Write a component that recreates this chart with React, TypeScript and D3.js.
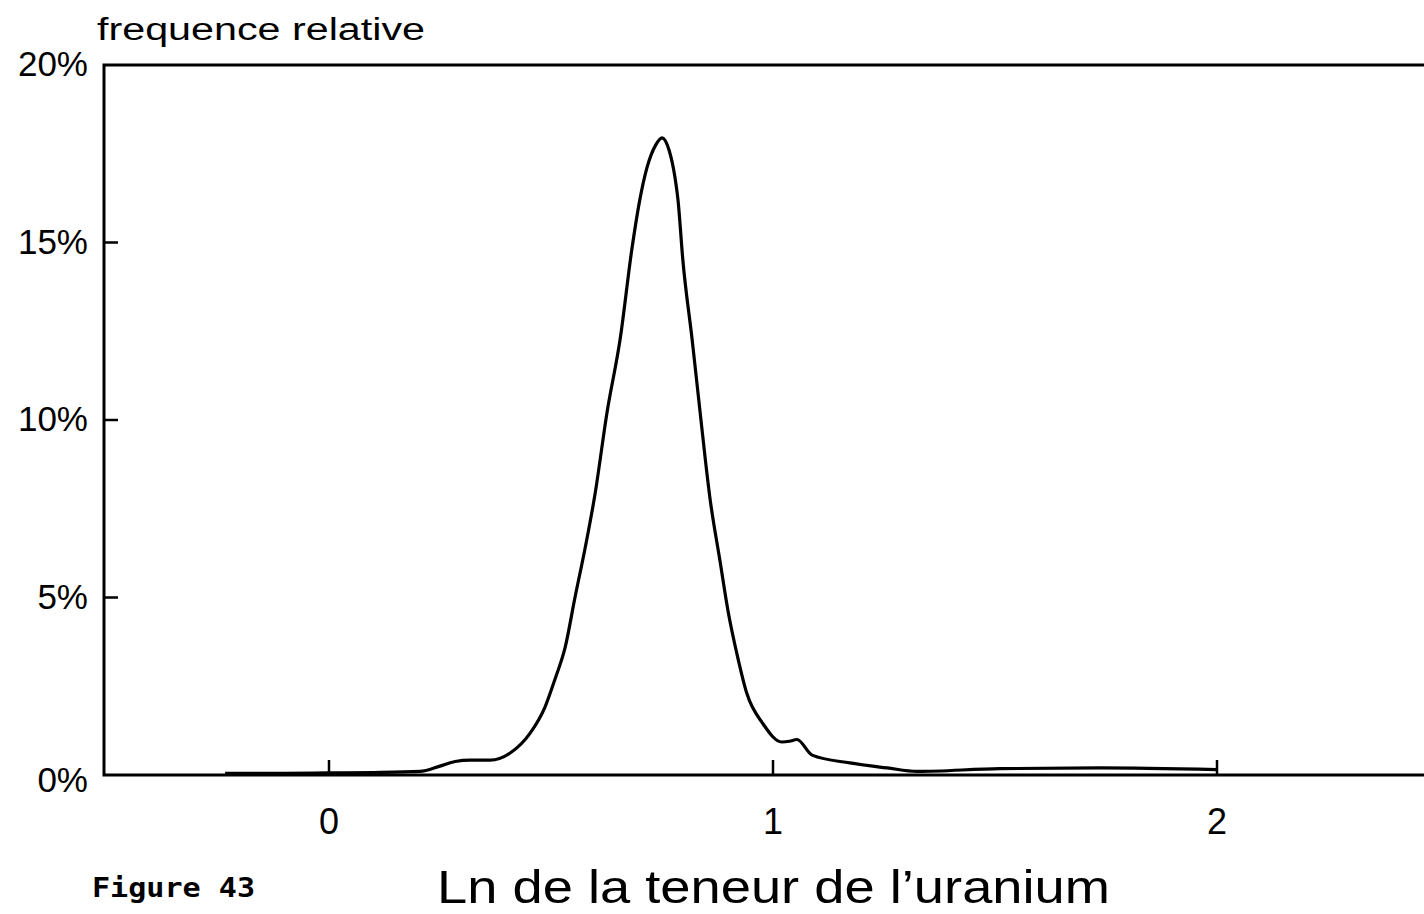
import React, { useEffect, useRef } from "react";
import * as d3 from "d3";

const xValues = [-0.234, -0.1, 0.0, 0.1, 0.205, 0.25, 0.284, 0.318, 0.363, 0.408, 0.453, 0.486, 0.509, 0.532, 0.554, 0.577, 0.599, 0.626, 0.656, 0.682, 0.7, 0.716, 0.736, 0.75, 0.766, 0.779, 0.786, 0.797, 0.818, 0.836, 0.858, 0.881, 0.899, 0.919, 0.941, 0.977, 1.02, 1.037, 1.054, 1.088, 1.173, 1.257, 1.324, 1.511, 1.736, 2.0];
const yValues = [0.05, 0.05, 0.06, 0.07, 0.1, 0.25, 0.38, 0.42, 0.42, 0.62, 1.18, 1.9, 2.7, 3.6, 5.0, 6.4, 7.9, 10.2, 12.3, 14.8, 16.2, 17.1, 17.75, 17.95, 17.6, 16.85, 16.2, 14.5, 12.25, 10.2, 7.8, 6.0, 4.6, 3.4, 2.3, 1.45, 0.93, 0.95, 1.0, 0.56, 0.34, 0.2, 0.1, 0.18, 0.2, 0.15];
const xTicks = [0, 1, 2];
const yTicks = [0, 5, 10, 15, 20];

const W = 1424, H = 914;
const left = 104, top = 65, bottom = 775, right = 1424;

export default function App() {
  const ref = useRef<SVGSVGElement>(null);
  useEffect(() => {
    document.body.style.margin = "0";
    const svg = d3.select(ref.current);
    svg.selectAll("*").remove();
    const x = d3.scaleLinear().domain([0, 2]).range([329, 1217]);
    const y = d3.scaleLinear().domain([0, 20]).range([bottom, top]);
    const g = svg.append("g");
    const font = "'Liberation Sans', Arial, sans-serif";

    // frame
    g.append("path")
      .attr("d", `M${right},${top}H${left}V${bottom}H${right}`)
      .attr("fill", "none").attr("stroke", "#000").attr("stroke-width", 3);

    // y ticks
    yTicks.forEach((t) => {
      if (t > 0 && t < 20) {
        g.append("line").attr("x1", left).attr("x2", left + 14)
          .attr("y1", y(t)).attr("y2", y(t)).attr("stroke", "#000").attr("stroke-width", 2.5);
      }
      g.append("text").attr("x", 88).attr("y", y(t) + (t === 0 ? 17 : 11))
        .attr("text-anchor", "end").attr("font-family", font).attr("font-size", 35)
        .text(`${t}%`);
    });

    // x ticks
    xTicks.forEach((t) => {
      g.append("line").attr("x1", x(t)).attr("x2", x(t))
        .attr("y1", bottom).attr("y2", bottom - 15).attr("stroke", "#000").attr("stroke-width", 2.5);
      g.append("text").attr("x", x(t)).attr("y", 834)
        .attr("text-anchor", "middle").attr("font-family", font).attr("font-size", 36)
        .text(String(t));
    });

    // curve
    const pts = xValues.map((v, i) => [v, yValues[i]] as [number, number]);
    const line = d3.line<[number, number]>()
      .x((d) => x(d[0])).y((d) => y(d[1]))
      .curve(d3.curveMonotoneX);
    g.append("path").attr("d", line(pts) as string)
      .attr("fill", "none").attr("stroke", "#000").attr("stroke-width", 3.2)
      .attr("stroke-linejoin", "round");

    // labels
    g.append("text").attr("x", 97).attr("y", 40).attr("font-family", font)
      .attr("font-size", 31).attr("textLength", 328).attr("lengthAdjust", "spacingAndGlyphs")
      .text("frequence relative");
    g.append("text").attr("x", 437).attr("y", 903).attr("font-family", font)
      .attr("font-size", 46).attr("textLength", 673).attr("lengthAdjust", "spacingAndGlyphs")
      .text("Ln de la teneur de l\u2019uranium");
    g.append("text").attr("x", 92).attr("y", 897).attr("font-family", "'DejaVu Sans Mono', monospace")
      .attr("font-weight", "bold").attr("font-size", 26).attr("textLength", 163)
      .attr("lengthAdjust", "spacingAndGlyphs")
      .text("Figure 43");
  }, []);
  return (
    <svg ref={ref} width={W} height={H} style={{ display: "block", background: "#fff" }} />
  );
}
